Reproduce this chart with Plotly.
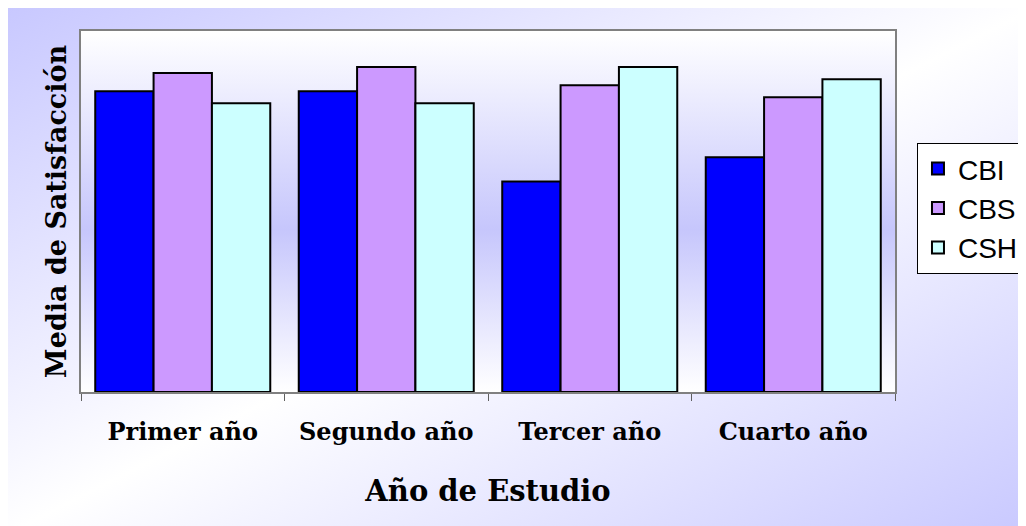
import base64
import plotly.graph_objects as go

# Data (hidden y-scale 0-6)
categories = ["Primer año", "Segundo año", "Tercer año", "Cuarto año"]
series_names = ["CBI", "CBS", "CSH"]
cbi_values = [5.0, 5.0, 3.5, 3.9]
cbs_values = [5.3, 5.4, 5.1, 4.9]
csh_values = [4.8, 4.8, 5.4, 5.2]

colors = {"CBI": "#0000FF", "CBS": "#CC99FF", "CSH": "#CCFFFF"}
serif = "DejaVu Serif"


def gradient_uri(x2, y2, stops):
    """Small SVG gradient encoded as a data URI, used as a background image."""
    stop_tags = "".join(
        f'<stop offset="{o}" stop-color="{c}"/>' for o, c in stops
    )
    svg = (
        '<svg xmlns="http://www.w3.org/2000/svg" width="100" height="100" '
        'viewBox="0 0 100 100" preserveAspectRatio="none">'
        f'<defs><linearGradient id="g" x1="0" y1="0" x2="{x2}" y2="{y2}">'
        f"{stop_tags}</linearGradient></defs>"
        '<rect x="0" y="0" width="100" height="100" fill="url(#g)"/></svg>'
    )
    return "data:image/svg+xml;base64," + base64.b64encode(svg.encode()).decode()


fig = go.Figure()
for name, vals in zip(series_names, [cbi_values, cbs_values, csh_values]):
    fig.add_trace(
        go.Bar(
            x=categories,
            y=vals,
            name=name,
            legendgroup=name,
            marker=dict(color=colors[name], line=dict(color="black", width=2)),
        )
    )

# page background: lavender in the corners TL/BR, white across the other diagonal
paper_bg = gradient_uri(1, 1, [(0, "#C8C8FF"), (0.5, "#FFFFFF"), (1, "#C8C8FF")])
# plot area: white at top and bottom, lavender in the middle
plot_bg = gradient_uri(0, 1, [(0, "#FFFFFF"), (0.55, "#C6C6FC"), (1, "#FFFFFF")])

fig.update_layout(
    width=1026,
    height=526,
    margin=dict(l=73, r=139, t=23, b=142, autoexpand=False),
    paper_bgcolor="white",
    plot_bgcolor="rgba(0,0,0,0)",
    barmode="group",
    bargap=0.14,
    bargroupgap=0,
    showlegend=True,
    legend=dict(
        x=1.027,
        y=0.69,
        xanchor="left",
        yanchor="top",
        bgcolor="white",
        bordercolor="black",
        borderwidth=1,
        font=dict(family="Liberation Sans, Arial", size=28, color="black"),
        tracegroupgap=10,
        traceorder="normal",
        itemwidth=30,
    ),
    images=[
        dict(
            source=paper_bg, xref="paper", yref="paper",
            x=-0.0897, y=1.0637, sizex=1.2604, sizey=1.457,
            xanchor="left", yanchor="top", sizing="stretch", layer="below",
        ),
        dict(
            source=plot_bg, xref="paper", yref="paper",
            x=0, y=1, sizex=1, sizey=1,
            xanchor="left", yanchor="top", sizing="stretch", layer="below",
        ),
    ],
)

fig.update_xaxes(
    showline=True,
    linecolor="#808080",
    linewidth=2,
    mirror=True,
    ticks="outside",
    tickson="boundaries",
    ticklen=7,
    tickcolor="#606060",
    tickfont=dict(family=serif, size=24, color="black", weight="bold"),
    ticklabelstandoff=17,
    title=dict(
        text="Año de Estudio",
        font=dict(family=serif, size=29, color="black", weight="bold"),
        standoff=36,
    ),
)
fig.update_yaxes(
    range=[0, 6],
    showline=True,
    linecolor="#808080",
    linewidth=2,
    mirror=True,
    showgrid=False,
    zeroline=False,
    showticklabels=False,
    ticks="",
    title=dict(
        text="Media de Satisfacción",
        font=dict(family=serif, size=27, color="black", weight="bold"),
        standoff=5,
    ),
)

fig.write_html("out.html")
